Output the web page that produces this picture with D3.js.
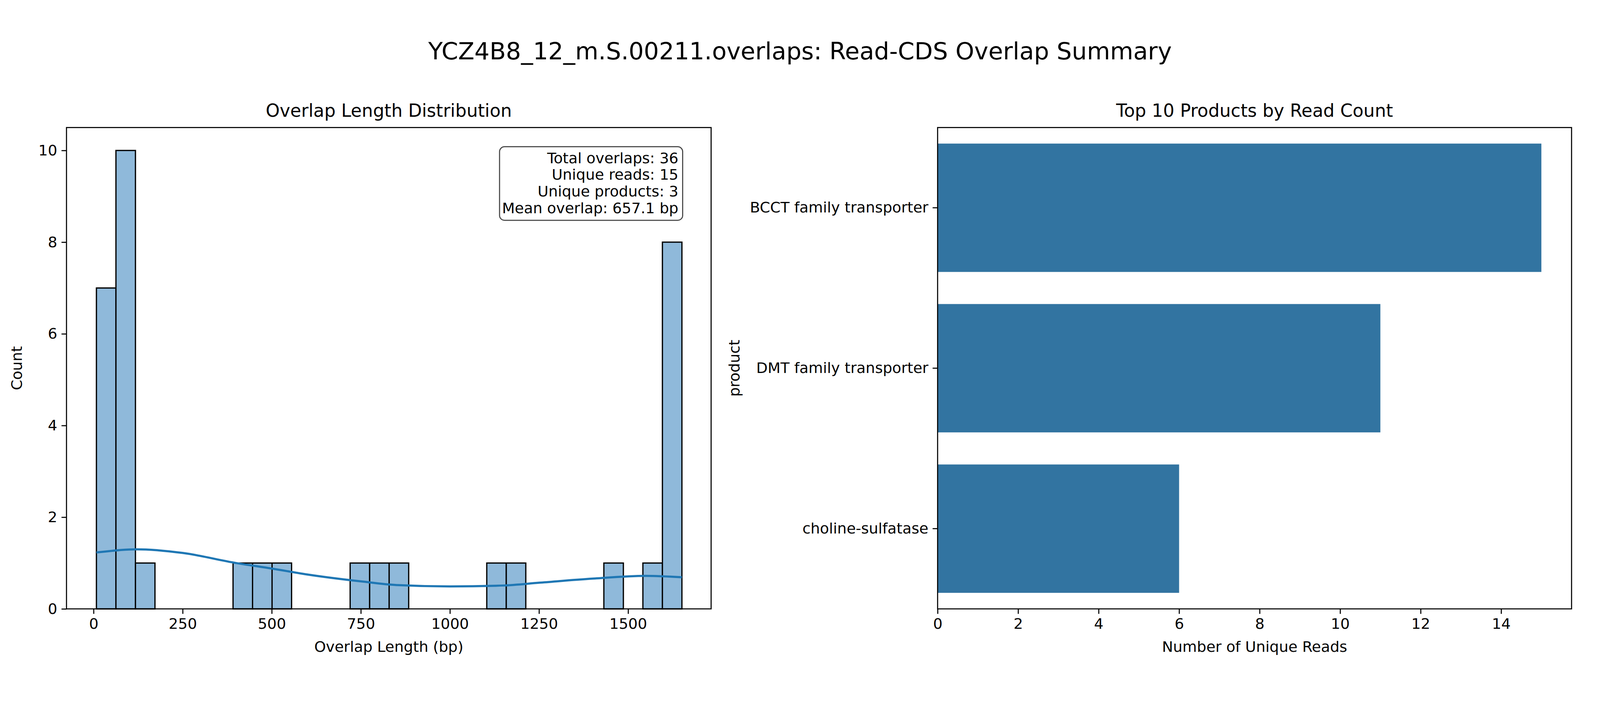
<!DOCTYPE html>
<html><head><meta charset="utf-8">
<script src="https://cdn.jsdelivr.net/npm/d3@7"></script>
<style>html,body{margin:0;padding:0;overflow:hidden;background:#fff;font-family:"DejaVu Sans",sans-serif;}
svg{display:block;width:100vw;height:100vh;}</style>
</head><body><svg id="chart" viewBox="0 0 4500 1800" preserveAspectRatio="xMidYMid meet"></svg>
<script>
// histogram bins (30 bins, 8..1651 bp)
const binStart = 8, binWidth = 54.77;
const binCounts = [7,10,1,0,0,0,0,1,1,1,0,0,0,1,1,1,0,0,0,0,1,1,0,0,0,0,1,0,1,8];
// KDE curve
const kdeX = [8,120,250,400,500,600,750,850,1000,1150,1250,1400,1550,1651];
const kdeY = [1.23,1.3,1.22,1.0,0.88,0.75,0.6,0.52,0.49,0.51,0.57,0.66,0.72,0.69];
const statLines = ["Total overlaps: 36","Unique reads: 15","Unique products: 3","Mean overlap: 657.1 bp"];
const products = ["BCCT family transporter","DMT family transporter","choline-sulfatase"];
const readCounts = [15,11,6];

const svg = d3.select("#chart");
const fs = 41.7;

svg.append("text").attr("x",2250).attr("y",78).attr("text-anchor","middle")
    .attr("font-size",67).text("YCZ4B8_12_m.S.00211.overlaps: Read-CDS Overlap Summary");

function styleAxis(g){
    g.selectAll("text").attr("font-size",fs).attr("font-family","DejaVu Sans").attr("fill","#000");
    g.selectAll("line").attr("stroke","#000").attr("stroke-width",3);
    g.select(".domain").remove();
}

// ---- left: histogram
const L = {x0:187, x1:2000, y0:270, y1:1624};
const x = d3.scaleLinear().domain([-76,1733]).range([L.x0,L.x1]);
const y = d3.scaleLinear().domain([0,10.5]).range([L.y1,L.y0]);
const left = svg.append("g");
binCounts.forEach((c,i) => {
    if (!c) return;
    left.append("rect")
        .attr("x", x(binStart + i*binWidth))
        .attr("width", x(binStart + (i+1)*binWidth) - x(binStart + i*binWidth))
        .attr("y", y(c)).attr("height", y(0) - y(c))
        .attr("fill","#8fb9da").attr("stroke","#000").attr("stroke-width",3.5);
});
left.append("path").datum(kdeX.map((v,i) => [v,kdeY[i]]))
    .attr("d", d3.line().x(d => x(d[0])).y(d => y(d[1])).curve(d3.curveMonotoneX))
    .attr("fill","none").attr("stroke","#1f77b4").attr("stroke-width",6);
left.append("rect").attr("x",L.x0).attr("y",L.y0).attr("width",L.x1-L.x0).attr("height",L.y1-L.y0)
    .attr("fill","none").attr("stroke","#000").attr("stroke-width",3);
left.append("g").attr("transform",`translate(0,${L.y1})`)
    .call(d3.axisBottom(x).tickValues([0,250,500,750,1000,1250,1500]).tickFormat(d3.format("d")).tickSize(14).tickPadding(12)).call(styleAxis);
left.append("g").attr("transform",`translate(${L.x0},0)`)
    .call(d3.axisLeft(y).tickValues([0,2,4,6,8,10]).tickSize(14).tickPadding(12)).call(styleAxis);
left.append("text").attr("x",(L.x0+L.x1)/2).attr("y",240).attr("text-anchor","middle").attr("font-size",50).text("Overlap Length Distribution");
left.append("text").attr("x",(L.x0+L.x1)/2).attr("y",1745).attr("text-anchor","middle").attr("font-size",fs).text("Overlap Length (bp)");
left.append("text").attr("transform",`translate(62,${(L.y0+L.y1)/2}) rotate(-90)`).attr("text-anchor","middle").attr("font-size",fs).text("Count");
// stats box
const box = left.append("g");
box.append("rect").attr("x",1405).attr("y",324).attr("width",515).attr("height",207).attr("rx",14)
    .attr("fill","#fff").attr("stroke","#444").attr("stroke-width",3);
statLines.forEach((t,i) => box.append("text").attr("x",1908).attr("y",370+i*47)
    .attr("text-anchor","end").attr("font-size",fs).text(t));

// ---- right: bar chart
const R = {x0:2637, x1:4420, y0:270, y1:1624};
const xr = d3.scaleLinear().domain([0,15.75]).range([R.x0,R.x1]);
const yr = d3.scaleBand().domain(products).range([R.y0,R.y1]).paddingInner(0.2).paddingOuter(0.1);
const right = svg.append("g");
right.selectAll("rect.bar").data(products).enter().append("rect")
    .attr("x",xr(0)).attr("y",d => yr(d)).attr("height",yr.bandwidth())
    .attr("width",(d,i) => xr(readCounts[i]) - xr(0)).attr("fill","#3274a1");
right.append("rect").attr("x",R.x0).attr("y",R.y0).attr("width",R.x1-R.x0).attr("height",R.y1-R.y0)
    .attr("fill","none").attr("stroke","#000").attr("stroke-width",3);
right.append("g").attr("transform",`translate(0,${R.y1})`)
    .call(d3.axisBottom(xr).tickValues([0,2,4,6,8,10,12,14]).tickSize(14).tickPadding(12)).call(styleAxis);
right.append("g").attr("transform",`translate(${R.x0},0)`)
    .call(d3.axisLeft(yr).tickSize(14).tickPadding(12)).call(styleAxis);
right.append("text").attr("x",(R.x0+R.x1)/2).attr("y",240).attr("text-anchor","middle").attr("font-size",50).text("Top 10 Products by Read Count");
right.append("text").attr("x",(R.x0+R.x1)/2).attr("y",1745).attr("text-anchor","middle").attr("font-size",fs).text("Number of Unique Reads");
right.append("text").attr("transform",`translate(2080,${(R.y0+R.y1)/2}) rotate(-90)`).attr("text-anchor","middle").attr("font-size",fs).text("product");
</script></body></html>
